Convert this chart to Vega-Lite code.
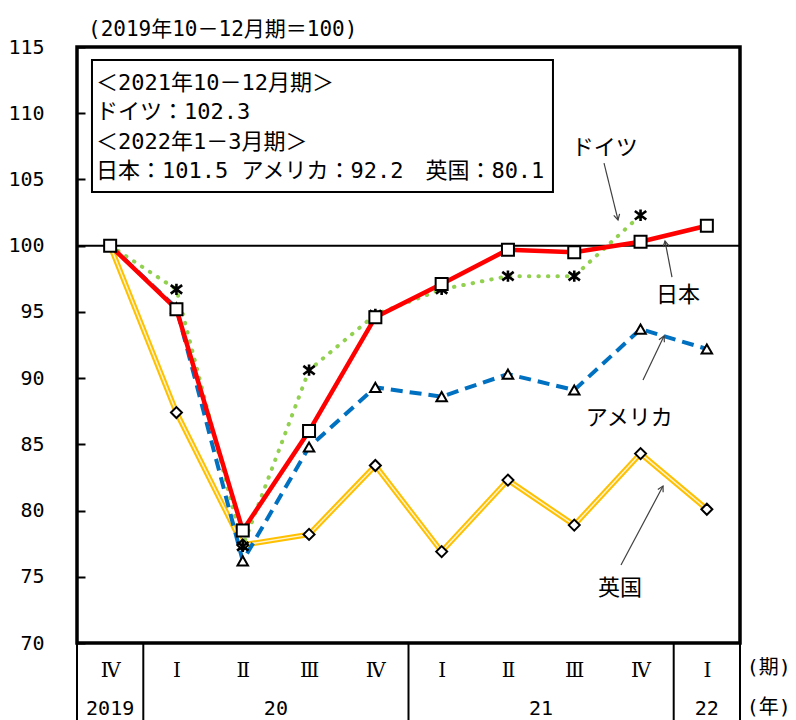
{
  "$schema": "https://vega.github.io/schema/vega-lite/v6.json",
  "width": 663,
  "height": 596,
  "autosize": {"type": "none"},
  "padding": {"left": 77, "top": 47, "right": 56, "bottom": 77},
  "background": "white",
  "view": {"stroke": "black", "strokeWidth": 3.5},
  "config": {"font": "DejaVu Sans Mono, Noto Sans CJK JP"},
  "datasets": {
    "series": [
      {"q": 0, "country": "日本", "value": 100}, {"q": 1, "country": "日本", "value": 95.2}, {"q": 2, "country": "日本", "value": 78.5}, {"q": 3, "country": "日本", "value": 86.0}, {"q": 4, "country": "日本", "value": 94.6}, {"q": 5, "country": "日本", "value": 97.1}, {"q": 6, "country": "日本", "value": 99.7}, {"q": 7, "country": "日本", "value": 99.5}, {"q": 8, "country": "日本", "value": 100.3}, {"q": 9, "country": "日本", "value": 101.5},
      {"q": 0, "country": "ドイツ", "value": 100}, {"q": 1, "country": "ドイツ", "value": 96.7}, {"q": 2, "country": "ドイツ", "value": 77.3}, {"q": 3, "country": "ドイツ", "value": 90.6}, {"q": 4, "country": "ドイツ", "value": 94.8}, {"q": 5, "country": "ドイツ", "value": 96.7}, {"q": 6, "country": "ドイツ", "value": 97.7}, {"q": 7, "country": "ドイツ", "value": 97.7}, {"q": 8, "country": "ドイツ", "value": 102.3},
      {"q": 0, "country": "アメリカ", "value": 100}, {"q": 1, "country": "アメリカ", "value": 95.3}, {"q": 2, "country": "アメリカ", "value": 76.2}, {"q": 3, "country": "アメリカ", "value": 84.8}, {"q": 4, "country": "アメリカ", "value": 89.3}, {"q": 5, "country": "アメリカ", "value": 88.6}, {"q": 6, "country": "アメリカ", "value": 90.3}, {"q": 7, "country": "アメリカ", "value": 89.1}, {"q": 8, "country": "アメリカ", "value": 93.7}, {"q": 9, "country": "アメリカ", "value": 92.2},
      {"q": 0, "country": "英国", "value": 100}, {"q": 1, "country": "英国", "value": 87.4}, {"q": 2, "country": "英国", "value": 77.4}, {"q": 3, "country": "英国", "value": 78.2}, {"q": 4, "country": "英国", "value": 83.4}, {"q": 5, "country": "英国", "value": 76.9}, {"q": 6, "country": "英国", "value": 82.3}, {"q": 7, "country": "英国", "value": 78.9}, {"q": 8, "country": "英国", "value": 84.3}, {"q": 9, "country": "英国", "value": 80.1}
    ],
    "years": [
      {"year": "2019", "pos": 0}, {"year": "20", "pos": 2.5}, {"year": "21", "pos": 6.5}, {"year": "22", "pos": 9}
    ],
    "bounds": [{"b": -0.5}, {"b": 0.5}, {"b": 4.5}, {"b": 8.5}, {"b": 9.5}],
    "labels": [
      {"name": "ドイツ", "q": 7.46, "v": 107.37},
      {"name": "日本", "q": 8.565, "v": 96.27},
      {"name": "アメリカ", "q": 7.83, "v": 86.99},
      {"name": "英国", "q": 7.69, "v": 74.15}
    ],
    "arrows": [
      {"name": "ドイツ", "q0": 7.449, "v0": 106.24, "q1": 7.66, "v1": 101.94, "ang": 166},
      {"name": "日本", "q0": 8.474, "v0": 97.63, "q1": 8.369, "v1": 100.35, "ang": -11},
      {"name": "アメリカ", "q0": 8.037, "v0": 89.86, "q1": 8.354, "v1": 93.18, "ang": 25.5},
      {"name": "英国", "q0": 7.705, "v0": 75.89, "q1": 8.339, "v1": 81.85, "ang": 27.8}
    ]
  },
  "layer": [
    {
      "data": {"values": [{}]},
      "mark": {"type": "rule", "color": "black", "strokeWidth": 2},
      "encoding": {"y": {"datum": 100, "type": "quantitative"}}
    },
    {
      "data": {"name": "series"},
      "transform": [{"filter": "datum.country === '英国'"}],
      "mark": {"type": "line", "color": "#FFC000", "strokeWidth": 5.5},
      "encoding": {
        "x": {"field": "q", "type": "quantitative", "scale": {"domain": [-0.5, 9.5], "nice": false, "zero": false},
          "axis": {"values": [0, 1, 2, 3, 4, 5, 6, 7, 8, 9], "labelExpr": "['Ⅳ','Ⅰ','Ⅱ','Ⅲ','Ⅳ','Ⅰ','Ⅱ','Ⅲ','Ⅳ','Ⅰ'][datum.value]", "ticks": false, "domain": false, "grid": false, "title": null, "labelFont": "DejaVu Serif, Noto Sans CJK JP", "labelFontSize": 20, "labelColor": "black", "labelBaseline": "middle", "labelPadding": 27, "labelFlush": false, "labelOverlap": false}},
        "y": {"field": "value", "type": "quantitative", "scale": {"domain": [70, 115], "nice": false, "zero": false},
          "axis": {"values": [70, 75, 80, 85, 90, 95, 100, 105, 110, 115], "title": null, "grid": false, "domain": false, "ticks": true, "tickSize": -8, "tickWidth": 2, "tickColor": "black", "labelFont": "DejaVu Sans Mono", "labelFontSize": 20, "labelColor": "black", "labelPadding": 41}}
      }
    },
    {
      "data": {"name": "series"},
      "transform": [{"filter": "datum.country === '英国'"}],
      "mark": {"type": "line", "color": "#FFF3D0", "strokeWidth": 1.5},
      "encoding": {"x": {"field": "q", "type": "quantitative"}, "y": {"field": "value", "type": "quantitative"}}
    },
    {
      "data": {"name": "series"},
      "transform": [{"filter": "datum.country === 'アメリカ'"}],
      "mark": {"type": "line", "color": "#0070C0", "strokeWidth": 4, "strokeDash": [12, 7]},
      "encoding": {"x": {"field": "q", "type": "quantitative"}, "y": {"field": "value", "type": "quantitative"}}
    },
    {
      "data": {"name": "series"},
      "transform": [{"filter": "datum.country === 'ドイツ'"}],
      "mark": {"type": "line", "color": "#92D050", "strokeWidth": 4, "strokeDash": [0.5, 9], "strokeCap": "round"},
      "encoding": {"x": {"field": "q", "type": "quantitative"}, "y": {"field": "value", "type": "quantitative"}}
    },
    {
      "data": {"name": "series"},
      "transform": [{"filter": "datum.country === '日本'"}],
      "mark": {"type": "line", "color": "#FF0000", "strokeWidth": 4.5},
      "encoding": {"x": {"field": "q", "type": "quantitative"}, "y": {"field": "value", "type": "quantitative"}}
    },
    {
      "data": {"name": "series"},
      "transform": [{"filter": "datum.country === '英国' && datum.q > 0"}],
      "mark": {"type": "point", "shape": "diamond", "filled": true, "fill": "white", "stroke": "black", "strokeWidth": 2, "size": 121, "opacity": 1},
      "encoding": {"x": {"field": "q", "type": "quantitative"}, "y": {"field": "value", "type": "quantitative"}}
    },
    {
      "data": {"name": "series"},
      "transform": [{"filter": "datum.country === 'アメリカ' && datum.q > 0"}],
      "mark": {"type": "point", "shape": "triangle-up", "filled": true, "fill": "white", "stroke": "black", "strokeWidth": 2, "size": 110, "opacity": 1},
      "encoding": {"x": {"field": "q", "type": "quantitative"}, "y": {"field": "value", "type": "quantitative"}}
    },
    {
      "data": {"name": "series"},
      "transform": [{"filter": "datum.country === 'ドイツ' && datum.q > 0"}],
      "mark": {"type": "point", "shape": "M-1,-0.75L1,0.75M-1,0.75L1,-0.75M0,-1L0,1", "filled": false, "stroke": "black", "strokeWidth": 2.6, "size": 130, "opacity": 1},
      "encoding": {"x": {"field": "q", "type": "quantitative"}, "y": {"field": "value", "type": "quantitative"}}
    },
    {
      "data": {"name": "series"},
      "transform": [{"filter": "datum.country === '日本'"}],
      "mark": {"type": "point", "shape": "square", "filled": true, "fill": "white", "stroke": "black", "strokeWidth": 2, "size": 144, "opacity": 1},
      "encoding": {"x": {"field": "q", "type": "quantitative"}, "y": {"field": "value", "type": "quantitative"}}
    },
    {
      "data": {"values": [{}]},
      "mark": {"type": "rect", "fill": "white", "stroke": "black", "strokeWidth": 2},
      "encoding": {
        "x": {"datum": -0.274, "type": "quantitative"}, "x2": {"datum": 6.679},
        "y": {"datum": 114.02, "type": "quantitative"}, "y2": {"datum": 104.05}
      }
    },
    {
      "data": {"values": [{}]},
      "mark": {"type": "text", "text": ["＜2021年10－12月期＞", "ドイツ：102.3", "＜2022年1－3月期＞", "日本：101.5 アメリカ：92.2　英国：80.1"], "align": "left", "baseline": "top", "fontSize": 22, "lineHeight": 29.5, "color": "black"},
      "encoding": {"x": {"datum": -0.213, "type": "quantitative"}, "y": {"datum": 113.04, "type": "quantitative"}}
    },
    {
      "data": {"values": [{}]},
      "mark": {"type": "text", "text": "(2019年10－12月期＝100)", "align": "left", "baseline": "middle", "fontSize": 21, "color": "black"},
      "encoding": {"x": {"datum": -0.334, "type": "quantitative"}, "y": {"datum": 116.28, "type": "quantitative"}}
    },
    {
      "data": {"name": "labels"},
      "mark": {"type": "text", "font": "Noto Sans CJK JP", "fontSize": 22, "align": "center", "baseline": "middle", "color": "black"},
      "encoding": {"x": {"field": "q", "type": "quantitative"}, "y": {"field": "v", "type": "quantitative"}, "text": {"field": "name"}}
    },
    {
      "data": {"name": "arrows"},
      "mark": {"type": "rule", "color": "#404040", "strokeWidth": 1.2},
      "encoding": {"x": {"field": "q0", "type": "quantitative"}, "y": {"field": "v0", "type": "quantitative"}, "x2": {"field": "q1"}, "y2": {"field": "v1"}}
    },
    {
      "data": {"name": "arrows"},
      "mark": {"type": "point", "shape": "M-0.55,1L0,0L0.55,1", "filled": false, "stroke": "#404040", "strokeWidth": 1.2, "size": 120, "opacity": 1},
      "encoding": {"x": {"field": "q1", "type": "quantitative"}, "y": {"field": "v1", "type": "quantitative"}, "angle": {"field": "ang", "type": "quantitative", "scale": null}}
    },
    {
      "data": {"name": "bounds"},
      "mark": {"type": "rule", "color": "black", "strokeWidth": 2},
      "encoding": {"x": {"field": "b", "type": "quantitative"}, "y": {"datum": 70, "type": "quantitative"}, "y2": {"datum": 63.5}}
    },
    {
      "data": {"name": "years"},
      "mark": {"type": "text", "fontSize": 20, "align": "center", "baseline": "middle", "color": "black"},
      "encoding": {"x": {"field": "pos", "type": "quantitative"}, "y": {"datum": 65.02, "type": "quantitative"}, "text": {"field": "year"}}
    },
    {
      "data": {"values": [{}]},
      "mark": {"type": "text", "text": ["(期)", "(年)"], "fontSize": 20, "lineHeight": 40, "align": "left", "baseline": "top", "color": "black"},
      "encoding": {"x": {"datum": 9.6, "type": "quantitative"}, "y": {"datum": 68.9, "type": "quantitative"}}
    }
  ]
}
